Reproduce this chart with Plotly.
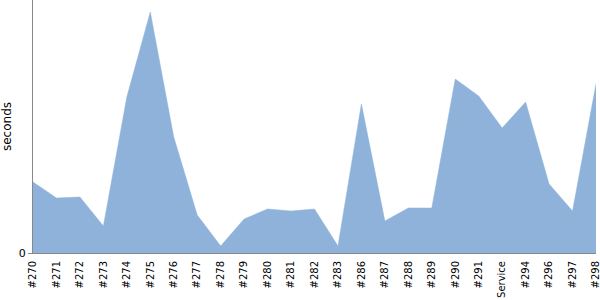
import plotly.graph_objects as go

categories = ["#270", "#271", "#272", "#273", "#274", "#275", "#276", "#277", "#278",
              "#279", "#280", "#281", "#282", "#283", "#286", "#287", "#288", "#289",
              "#290", "#291", "Service", "#294", "#296", "#297", "#298"]
seconds = [7.1, 5.5, 5.6, 2.7, 15.6, 24.1, 11.6, 3.8, 0.7,
           3.4, 4.4, 4.2, 4.4, 0.7, 14.9, 3.2, 4.5, 4.5,
           17.4, 15.7, 12.5, 15.1, 6.9, 4.2, 16.9]
y_max = 25.3

fig = go.Figure(go.Scatter(
    x=categories, y=seconds, mode="lines", fill="tozeroy",
    line=dict(color="#8fb2db", width=0.5), fillcolor="#8fb2db",
    hoverinfo="x+y",
))

fig.update_layout(
    width=600, height=300,
    margin=dict(l=33, r=4, t=0, b=47),
    plot_bgcolor="white", paper_bgcolor="white",
    showlegend=False,
    font=dict(family="DejaVu Sans", size=11, color="black"),
)
fig.update_xaxes(
    type="category", range=[0, len(categories) - 1],
    tickangle=-90, showgrid=False, showline=True, linecolor="#888888", linewidth=1,
    ticks="outside", ticklen=3, tickcolor="rgba(0,0,0,0)", tickfont=dict(size=10),
)
fig.update_yaxes(
    range=[0, y_max], tickvals=[0], ticktext=["0"], showgrid=False, zeroline=False,
    showline=True, linecolor="#888888", linewidth=1,
    ticks="outside", ticklen=4, tickcolor="#888888",
    title=dict(text="seconds", standoff=4, font=dict(size=12)),
)

fig.write_html("out.html")
